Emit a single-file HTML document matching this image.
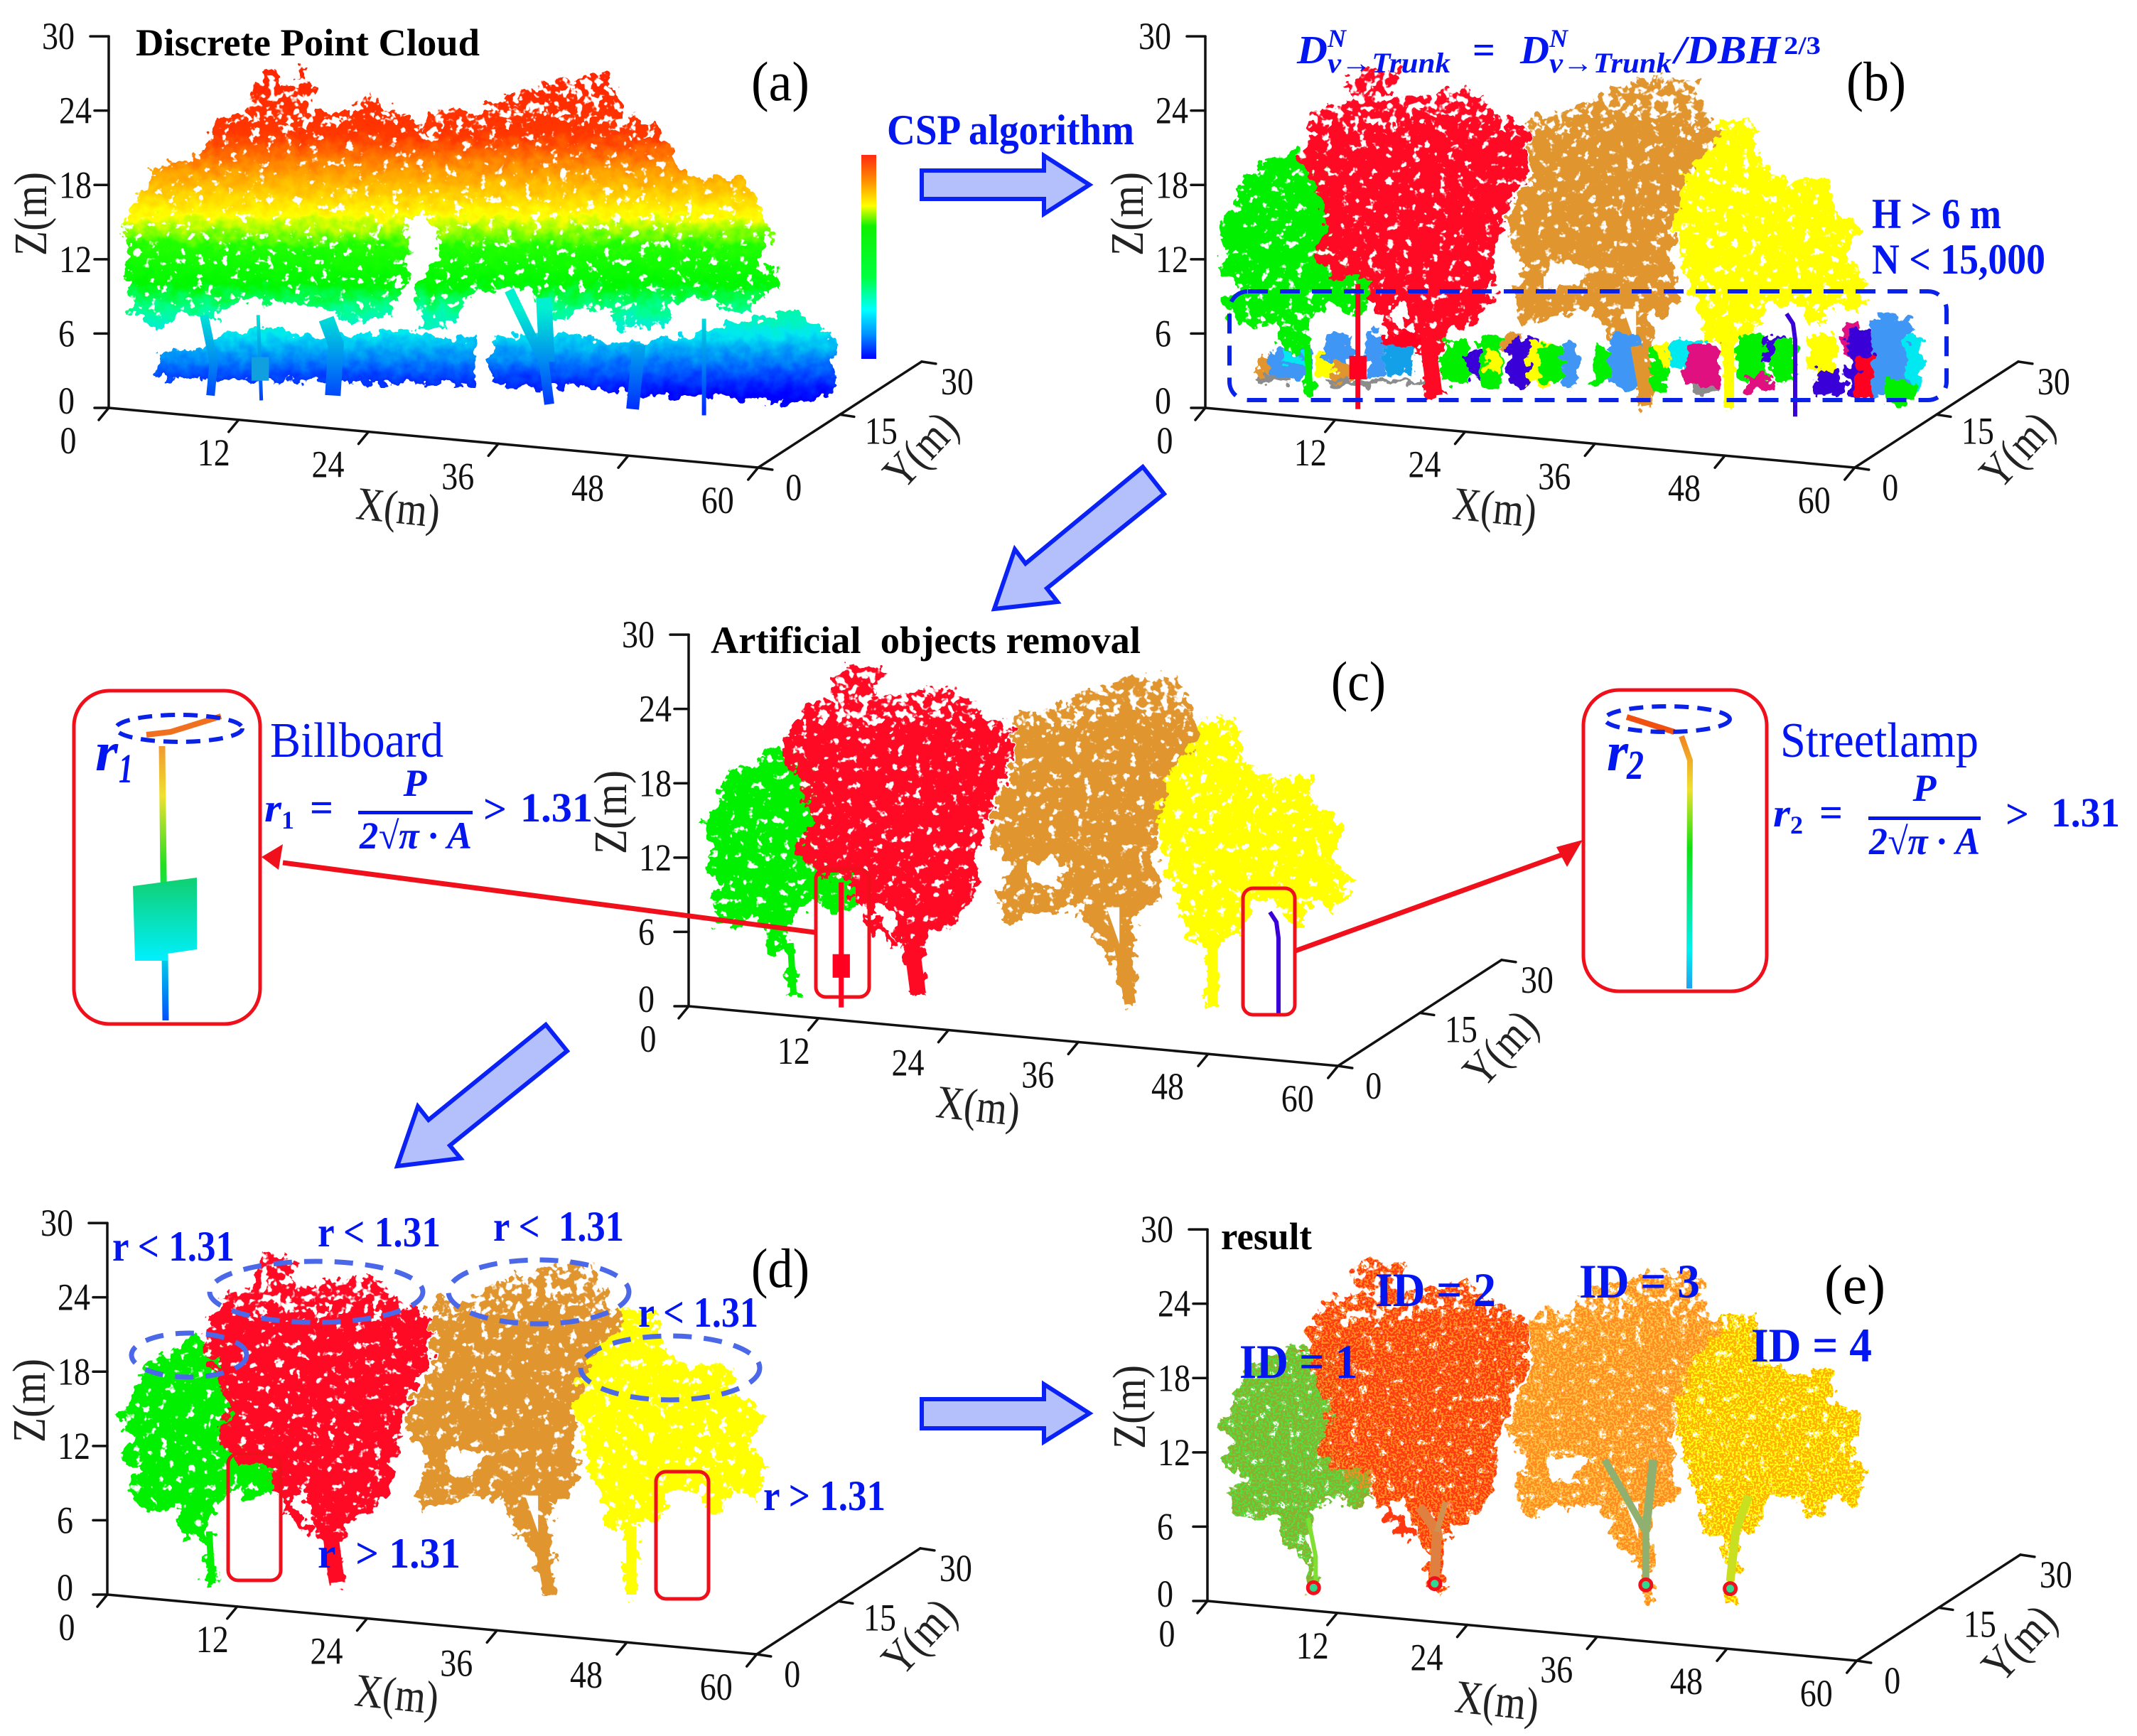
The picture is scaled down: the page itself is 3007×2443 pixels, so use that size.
<!DOCTYPE html>
<html>
<head>
<meta charset="utf-8">
<title>Point cloud tree segmentation workflow</title>
<style>
html,body{margin:0;padding:0;background:#fff;width:3007px;height:2443px;overflow:hidden}
svg{display:block}
text{font-family:"Liberation Serif",serif}
.tick{font-size:54px;fill:#111}
.axt{font-size:66px;fill:#222}
.ttl{font-size:54px;font-weight:700;fill:#000}
.tag{font-size:78px;fill:#000}
.blb{font-size:60px;font-weight:700;fill:#0416f0}
.eq{font-weight:700;font-style:italic;fill:#0416f0}
.reg{font-size:70px;fill:#0416f0}
</style>
</head>
<body>
<svg id="fig" xmlns="http://www.w3.org/2000/svg" width="3007" height="2443" viewBox="0 0 3007 2443">
<defs>
<filter id="rough" x="-6%" y="-6%" width="112%" height="112%" color-interpolation-filters="sRGB">
  <feTurbulence type="fractalNoise" baseFrequency="0.06" numOctaves="3" seed="4" result="n"/>
  <feDisplacementMap in="SourceGraphic" in2="n" scale="34" xChannelSelector="R" yChannelSelector="G" result="d"/>
  <feTurbulence type="fractalNoise" baseFrequency="0.08" numOctaves="3" seed="11" result="h"/>
  <feColorMatrix in="h" type="matrix" values="0 0 0 0 0  0 0 0 0 0  0 0 0 0 0  0 0 0 -12 8.7" result="m"/>
  <feComposite in="d" in2="m" operator="in"/>
</filter>
<filter id="speck" x="-6%" y="-6%" width="112%" height="112%" color-interpolation-filters="sRGB">
  <feTurbulence type="fractalNoise" baseFrequency="0.06" numOctaves="3" seed="4" result="n"/>
  <feDisplacementMap in="SourceGraphic" in2="n" scale="34" xChannelSelector="R" yChannelSelector="G" result="d"/>
  <feTurbulence type="fractalNoise" baseFrequency="0.35" numOctaves="1" seed="9" result="f"/>
  <feColorMatrix in="f" type="matrix" values="0 0 0 0 0  0 0 0 0 0  0 0 0 0 0  0 0 0 -18 9" result="m"/>
  <feComposite in="d" in2="m" operator="in"/>
</filter>
<filter id="lump" x="-6%" y="-6%" width="112%" height="112%" color-interpolation-filters="sRGB">
  <feTurbulence type="fractalNoise" baseFrequency="0.06" numOctaves="3" seed="7" result="n"/>
  <feDisplacementMap in="SourceGraphic" in2="n" scale="30" xChannelSelector="R" yChannelSelector="G"/>
</filter>
<filter id="sparse" x="-4%" y="-10%" width="108%" height="120%" color-interpolation-filters="sRGB">
  <feTurbulence type="fractalNoise" baseFrequency="0.05" numOctaves="3" seed="5" result="n"/>
  <feDisplacementMap in="SourceGraphic" in2="n" scale="70" xChannelSelector="R" yChannelSelector="G" result="d"/>
  <feTurbulence type="fractalNoise" baseFrequency="0.09" numOctaves="2" seed="21" result="h"/>
  <feColorMatrix in="h" type="matrix" values="0 0 0 0 0  0 0 0 0 0  0 0 0 0 0  0 0 0 14 -7.5" result="m"/>
  <feComposite in="d" in2="m" operator="in"/>
</filter>
<linearGradient id="barGrad" x1="0" y1="0" x2="0" y2="1">
  <stop offset="0" stop-color="#ff2a10"/><stop offset=".13" stop-color="#ff9000"/><stop offset=".25" stop-color="#ffff00"/>
  <stop offset=".35" stop-color="#10f000"/><stop offset=".6" stop-color="#00ff40"/><stop offset=".76" stop-color="#00ffff"/>
  <stop offset=".88" stop-color="#0090ff"/><stop offset="1" stop-color="#0000ff"/>
</linearGradient>
<linearGradient id="poleL" gradientUnits="userSpaceOnUse" x1="0" y1="1041" x2="0" y2="1436">
  <stop offset="0" stop-color="#f09030"/><stop offset=".2" stop-color="#f0e030"/><stop offset=".45" stop-color="#20e020"/>
  <stop offset=".75" stop-color="#00e0e0"/><stop offset="1" stop-color="#0050ff"/>
</linearGradient>
<linearGradient id="poleR" gradientUnits="userSpaceOnUse" x1="0" y1="1032" x2="0" y2="1391">
  <stop offset="0" stop-color="#f08020"/><stop offset=".22" stop-color="#f0e030"/><stop offset=".45" stop-color="#10e010"/>
  <stop offset=".85" stop-color="#00f0f0"/><stop offset="1" stop-color="#20a0f0"/>
</linearGradient>
<linearGradient id="boardGrad" x1="0" y1="0" x2="0" y2="1">
  <stop offset="0" stop-color="#10d070"/><stop offset="1" stop-color="#00f0ff"/>
</linearGradient>
</defs>

<g id="marks"></g>

<!-- panel a -->
<text class="ttl" x="191" y="78" textLength="484" lengthAdjust="spacingAndGlyphs">Discrete Point Cloud</text>
<text class="tag" x="1057" y="141" textLength="82" lengthAdjust="spacingAndGlyphs">(a)</text>
<rect x="1212" y="218" width="21" height="287" fill="url(#barGrad)"/>
<text class="blb" x="1248" y="203" textLength="348" lengthAdjust="spacingAndGlyphs">CSP algorithm</text>
<polygon points="1297,240 1469,240 1469,219 1533,260 1469,301 1469,280 1297,280" fill="#b3c0fb" stroke="#0a22f5" stroke-width="6"/>

<!-- panel b -->
<g>
<text class="eq" font-size="56" x="1825" y="89" textLength="43" lengthAdjust="spacingAndGlyphs">D</text>
<text class="eq" font-size="36" x="1868" y="66" textLength="26" lengthAdjust="spacingAndGlyphs">N</text>
<text class="eq" font-size="40" x="1868" y="102" textLength="173" lengthAdjust="spacingAndGlyphs">v→Trunk</text>
<text class="eq" font-size="56" x="2072" y="89" style="font-style:normal">=</text>
<text class="eq" font-size="56" x="2139" y="89" textLength="41" lengthAdjust="spacingAndGlyphs">D</text>
<text class="eq" font-size="36" x="2180" y="66" textLength="26" lengthAdjust="spacingAndGlyphs">N</text>
<text class="eq" font-size="40" x="2180" y="102" textLength="172" lengthAdjust="spacingAndGlyphs">v→Trunk</text>
<text class="eq" font-size="56" x="2356" y="89" textLength="149" lengthAdjust="spacingAndGlyphs">/DBH</text>
<text class="eq" font-size="36" x="2510" y="76" textLength="52" lengthAdjust="spacingAndGlyphs" style="font-style:normal">2/3</text>
</g>
<text class="tag" x="2598" y="141" textLength="84" lengthAdjust="spacingAndGlyphs">(b)</text>
<text class="blb" x="2634" y="321" textLength="182" lengthAdjust="spacingAndGlyphs">H &gt; 6 m</text>
<text class="blb" x="2634" y="385" textLength="244" lengthAdjust="spacingAndGlyphs">N &lt; 15,000</text>
<rect x="1730" y="410" width="1009" height="153" rx="26" fill="none" stroke="#0a22e8" stroke-width="6" stroke-dasharray="28 17"/>
<polygon points="1608,657 1638,695 1473,828 1488,847 1399,857 1428,773 1443,793" fill="#b3c0fb" stroke="#0a22f5" stroke-width="6"/>

<!-- panel c -->
<text class="ttl" x="1000" y="919" textLength="605" lengthAdjust="spacingAndGlyphs" xml:space="preserve">Artificial  objects removal</text>
<text class="tag" x="1873" y="985" textLength="77" lengthAdjust="spacingAndGlyphs">(c)</text>
<rect x="1148" y="1223" width="75" height="180" rx="14" fill="none" stroke="#f0101c" stroke-width="5"/>
<rect x="1749" y="1250" width="73" height="178" rx="14" fill="none" stroke="#f0101c" stroke-width="5"/>

<g>
<rect x="104" y="972" width="262" height="469" rx="50" fill="#fff" stroke="#f0101c" stroke-width="5"/>
<polyline points="228,1050 230,1230 232,1345 233,1436" fill="none" stroke="url(#poleL)" stroke-width="9"/>
<polygon points="187,1247 277,1235 277,1336 236,1342 236,1352 190,1352" fill="url(#boardGrad)"/>
<polyline points="206,1034 240,1030 311,1008" fill="none" stroke="#f07020" stroke-width="8"/>
<ellipse cx="252" cy="1025" rx="89" ry="19" fill="none" stroke="#0a22e8" stroke-width="6" stroke-dasharray="20 12"/>
<text class="eq" font-size="78" x="134" y="1084" textLength="32" lengthAdjust="spacingAndGlyphs">r</text>
<text class="eq" font-size="58" x="167" y="1101" textLength="20" lengthAdjust="spacingAndGlyphs">1</text>
</g>
<text class="reg" x="380" y="1065" textLength="244" lengthAdjust="spacingAndGlyphs">Billboard</text>
<g>
<text class="eq" font-size="56" x="372" y="1156" textLength="24" lengthAdjust="spacingAndGlyphs">r</text>
<text class="eq" font-size="36" x="396" y="1166" style="font-style:normal">1</text>
<text class="eq" font-size="58" x="436" y="1156" style="font-style:normal">=</text>
<text class="eq" font-size="54" x="584" y="1120" text-anchor="middle">P</text>
<rect x="504" y="1141" width="161" height="5" fill="#0416f0"/>
<text class="eq" font-size="54" x="506" y="1194" textLength="158" lengthAdjust="spacingAndGlyphs">2√π · A</text>
<text class="eq" font-size="58" x="680" y="1158" style="font-style:normal">&gt;</text>
<text class="eq" font-size="58" x="732" y="1156" textLength="102" lengthAdjust="spacingAndGlyphs" style="font-style:normal">1.31</text>
</g>
<g>
<line x1="1146" y1="1312" x2="398" y2="1214" stroke="#f0101c" stroke-width="7"/>
<polygon points="368,1206 398,1188 392,1224" fill="#f0101c"/>
</g>

<g>
<rect x="2228" y="971" width="258" height="424" rx="50" fill="#fff" stroke="#f0101c" stroke-width="5"/>
<polyline points="2289,1009 2356,1030" fill="none" stroke="#f05010" stroke-width="8"/>
<polyline points="2366,1036 2378,1070 2377,1391" fill="none" stroke="url(#poleR)" stroke-width="8"/>
<ellipse cx="2346" cy="1012" rx="88" ry="18" fill="none" stroke="#0a22e8" stroke-width="6" stroke-dasharray="20 12"/>
<text class="eq" font-size="78" x="2261" y="1084" textLength="30" lengthAdjust="spacingAndGlyphs">r</text>
<text class="eq" font-size="58" x="2289" y="1096" textLength="24" lengthAdjust="spacingAndGlyphs">2</text>
</g>
<text class="reg" x="2505" y="1065" textLength="279" lengthAdjust="spacingAndGlyphs">Streetlamp</text>
<g>
<text class="eq" font-size="56" x="2495" y="1163" textLength="24" lengthAdjust="spacingAndGlyphs">r</text>
<text class="eq" font-size="36" x="2519" y="1173" style="font-style:normal">2</text>
<text class="eq" font-size="58" x="2560" y="1163" style="font-style:normal">=</text>
<text class="eq" font-size="54" x="2708" y="1127" text-anchor="middle">P</text>
<rect x="2629" y="1149" width="158" height="5" fill="#0416f0"/>
<text class="eq" font-size="54" x="2630" y="1202" textLength="156" lengthAdjust="spacingAndGlyphs">2√π · A</text>
<text class="eq" font-size="58" x="2822" y="1165" style="font-style:normal">&gt;</text>
<text class="eq" font-size="58" x="2886" y="1163" textLength="97" lengthAdjust="spacingAndGlyphs" style="font-style:normal">1.31</text>
</g>
<g>
<line x1="1823" y1="1338" x2="2200" y2="1202" stroke="#f0101c" stroke-width="7"/>
<polygon points="2227,1182 2205,1220 2190,1192" fill="#f0101c"/>
</g>
<polygon points="768,1442 798,1479 633,1612 648,1630 559,1641 588,1557 603,1576" fill="#b3c0fb" stroke="#0a22f5" stroke-width="6"/>

<!-- panel d -->
<text class="tag" x="1057" y="1811" textLength="82" lengthAdjust="spacingAndGlyphs">(d)</text>
<g fill="none" stroke="#4a68e8" stroke-width="7" stroke-dasharray="26 17">
<ellipse cx="266" cy="1907" rx="81" ry="31"/>
<ellipse cx="445" cy="1818" rx="150" ry="43"/>
<ellipse cx="758" cy="1818" rx="127" ry="45"/>
<ellipse cx="943" cy="1925" rx="126" ry="45"/>
</g>
<rect x="321" y="2046" width="74" height="178" rx="14" fill="none" stroke="#f0101c" stroke-width="5"/>
<rect x="923" y="2071" width="74" height="179" rx="14" fill="none" stroke="#f0101c" stroke-width="5"/>
<text class="blb" x="158" y="1774" textLength="172" lengthAdjust="spacingAndGlyphs">r &lt; 1.31</text>
<text class="blb" x="447" y="1754" textLength="173" lengthAdjust="spacingAndGlyphs">r &lt; 1.31</text>
<text class="blb" x="694" y="1746" textLength="184" lengthAdjust="spacingAndGlyphs" xml:space="preserve">r &lt;  1.31</text>
<text class="blb" x="898" y="1867" textLength="169" lengthAdjust="spacingAndGlyphs">r &lt; 1.31</text>
<text class="blb" x="1074" y="2125" textLength="172" lengthAdjust="spacingAndGlyphs">r &gt; 1.31</text>
<text class="blb" x="447" y="2206" textLength="201" lengthAdjust="spacingAndGlyphs" xml:space="preserve">r  &gt; 1.31</text>
<polygon points="1297,1969 1469,1969 1469,1948 1533,1989 1469,2029 1469,2010 1297,2010" fill="#b3c0fb" stroke="#0a22f5" stroke-width="6"/>

<!-- panel e -->
<text class="ttl" x="1718" y="1758" textLength="128" lengthAdjust="spacingAndGlyphs">result</text>
<text class="tag" x="2567" y="1834" textLength="86" lengthAdjust="spacingAndGlyphs">(e)</text>
<text class="blb" style="font-size:68px" x="1744" y="1939" textLength="166" lengthAdjust="spacingAndGlyphs">ID = 1</text>
<text class="blb" style="font-size:68px" x="1935" y="1838" textLength="170" lengthAdjust="spacingAndGlyphs">ID = 2</text>
<text class="blb" style="font-size:68px" x="2222" y="1826" textLength="170" lengthAdjust="spacingAndGlyphs">ID = 3</text>
<text class="blb" style="font-size:68px" x="2464" y="1916" textLength="170" lengthAdjust="spacingAndGlyphs">ID = 4</text>

<script>
// ---- axis tick values (metres) and labels ----
const xTicks = [0, 12, 24, 36, 48, 60];
const yTicks = [0, 15, 30];
const zTicks = [0, 6, 12, 18, 24, 30];
const axisTitles = ['X(m)', 'Y(m)', 'Z(m)'];

// ---- height colour scale for the raw cloud: heights (m) and colours ----
const jetHeights = [1, 3, 6, 8, 10, 13, 15.5, 19, 22, 28];
const jetColors = ['#0000ff', '#0058ff', '#00e8f0', '#00ff90', '#00f800', '#20ff00', '#ffff00', '#ffa000', '#ff3800', '#ff2000'];
const trunkHeights = [0, 4, 8];
const trunkColors = ['#0030ff', '#0090f0', '#00f0d0'];

// ---- crown outlines: [horizontal position m, height m] ----
const canopyRaw = [[.9,14.3],[2.8,17],[4.7,19.6],[8.2,20.2],[10,23.3],[13.2,24.4],[13.5,26.3],[15.1,27.5],[16,25.9],[17.9,27.2],[18.8,26.3],[18.5,24.2],[22,23.6],[23.9,25.5],[26.4,23.9],[29.2,22.7],[30.2,24.2],[33.3,23.6],[37.1,25.3],[40.2,26.3],[45.9,26.9],[46.8,25.6],[47.7,23.3],[50.6,23.1],[52.1,20.3],[53.7,18.6],[58.4,18.6],[60.6,15.7],[61.2,13.3],[59.4,11.4],[61.9,11.1],[61.9,9.8],[59.7,8.6],[59.7,7.5],[56.5,7.8],[56.5,8.6],[51.8,8.6],[51.5,6.6],[46.2,6.4],[46.8,8.1],[43.3,7.8],[42.1,6.9],[40.8,7.2],[38.9,9.5],[33.9,9.5],[31.4,6.6],[28.9,6.6],[28.3,10.1],[30.8,11.9],[29.5,15.7],[27.6,15.1],[27.6,11.3],[26.1,7.5],[22.6,6.6],[21.4,7.2],[20.1,8.1],[17,8.6],[11.9,8.6],[10,7.2],[6.9,7.8],[5,6.4],[2.5,7.5],[1.6,8.9],[2.5,10.4],[1.1,11],[1.9,13]];
const shrubLeftRaw = [[4.7,4.4],[8.2,4.7],[10.7,6],[15.1,6.6],[18.8,5.7],[22.6,5.9],[27,6.4],[30.8,5.6],[33.9,5.4],[33.9,1.9],[27,1.9],[21.4,2.2],[10.7,2.2],[4.4,2.5]];
const shrubRightRaw = [[35.3,5.7],[40.2,5.9],[46.2,5.3],[50.3,5.4],[55.9,6.4],[63.4,7.8],[66.9,5.9],[66.9,1],[62.8,.4],[59,.7],[49.6,1],[44.6,1.5],[35.2,1.8]];
const trunksRaw = [
  [[8.8,7.5],[9.7,3.7],[9.4,1]],
  [[13.8,7.5],[14.1,.6]],
  [[20.1,7.2],[21,5.1],[20.7,1]],
  [[37,9.5],[40.2,3.7],[40.7,.3]],
  [[40.2,8.9],[40.5,3.7]],
  [[49,5.1],[48.4,-.1]],
  [[55,7.2],[55,-.6]]
];
const trunkWidthsRaw = [12, 5, 22, 14, 22, 18, 6];
const boardRaw = [[13.2,4.1],[14.8,4.1],[14.8,2.2],[13.2,2.2]];

const greenCrown = [[1.1,14.5],[2.8,16.5],[3.6,18.9],[6,19.8],[8.2,21.1],[8.8,20.3],[11.6,20.3],[11.9,16.5],[11.6,12.4],[14.8,10.4],[15.1,8.3],[13.2,7.8],[11.9,8.6],[9.7,7.2],[9.4,5.1],[10.1,.9],[9.2,.9],[9.2,3.7],[8.2,4.4],[7.1,4.4],[6.6,7.2],[4.1,6.6],[2.8,6.7],[1.9,8.9],[3.5,9.8],[1.3,11.1],[2.2,12.7]];
const redCrown = [[8.8,20.3],[10.4,24.2],[13.5,24.7],[13.5,26.6],[14.8,27.5],[18.5,27.1],[16.6,25.3],[19.2,25],[24.2,25.9],[26.7,23.9],[29.8,22.4],[29.8,18.9],[28,16.2],[27.3,14.2],[26.7,11.9],[26.4,8.6],[24.2,6.6],[22.3,6],[22,4.8],[21.4,3.7],[22,.9],[20.4,.9],[20.4,3.1],[19.5,5.1],[18.2,8.6],[16.6,7.2],[14.8,8.9],[12.2,10.4],[10,12.4],[11.3,14.8],[10,18.3]];
const redOutlier = [[16.8,7.5],[19.5,5.2],[18.8,4.8],[16.2,6.8]];
const orangeCrown = [[28,15.4],[30.2,18.9],[29.8,23],[30.5,23.9],[33,23.6],[36.1,25.3],[40.5,26.5],[45.2,26.5],[46.5,23],[47.7,22.1],[44.3,18.9],[43.3,14.8],[43,11.9],[43.7,8.6],[41.1,7.2],[41.3,.1],[40.2,.1],[39.6,3.1],[37.4,5.7],[36.1,7.8],[32.4,7.5],[29.2,6.6],[28.6,9.5],[29.8,11.3],[28,13]];
const yellowCrown = [[43.3,14.8],[44,18.9],[47.7,23.3],[50.6,23],[51.2,20],[53.7,18.3],[57.8,18.6],[57.5,16.5],[60.6,14.5],[59.4,11.9],[61.2,10.4],[60,7.5],[57.6,8.6],[56.9,6.7],[55.5,6.8],[55,8.3],[52,8.6],[51,5.8],[49,5.6],[48.9,3.5],[48.9,0],[47.9,0],[47.9,3.5],[47.4,5.3],[45.9,5.4],[45.9,7.5],[44.3,10.2]];
const greenPatch = [[11.6,10.5],[15.2,10.6],[15.2,8],[13.4,7.6],[11.9,8.5]];
// canopy gaps and the sparse crown-top band: [horizontal m, height m]
const orangeGapLeft = [[31.5,11.8],[35,11.5],[34,9.6],[31.5,9.8]];
const orangeGapFork = [[38.6,8],[39.8,8],[39.8,5]];
const sparseBand = [[0,28.5],[64,28.5],[64,22],[56,23.5],[48,22.3],[40,23.8],[32,22.2],[24,23.6],[16,22.4],[8,23.4],[0,22]];

// ---- main trunks: [horizontal m, height m] and widths ----
const greenTrunk = [[9.4,5.1],[9.7,.9]];
const redTrunk = [[20.6,5],[21.2,1]];
const orangeTrunk = [[39.8,5],[40.8,.2]];
const yellowTrunk = [[48.4,5.5],[48.4,0]];

// ---- artificial objects ----
const billboardPole = [[14.1,10],[14.1,-.1]];
const billboardBoard = [[13.3,4.2],[14.9,4.2],[14.9,2.3],[13.3,2.3]];
const lampPole = [[53.7,7.6],[54.3,6.8],[54.5,5.5],[54.5,-.7]];

// ---- understory clusters in panel b: [from m, to m, low m, high m, colour] ----
const shrubs = [
[4.7,6.3,2.5,4.1,'#e0952f'],[4.7,7.9,2,2.6,'#8c8c8c'],[6,9.7,2.5,4.5,'#3f96f5'],[7.2,9.1,3.4,4.4,'#00e8f0'],
[10.4,11.9,2.5,4.8,'#ffff00'],[11,13.5,3.7,5.9,'#3f96f5'],[11.9,13.5,2.2,4,'#e0952f'],[11,20.4,1.8,2.3,'#8c8c8c'],
[14.8,16.6,2.5,6.3,'#3f96f5'],[16.6,19.2,2.8,5.3,'#14a0e8'],[16.3,19.8,4.8,6.1,'#ff0020'],[22,24.2,2,5.4,'#00f000'],
[24.2,26.1,2.2,4.8,'#3a00d8'],[25.4,27.3,1.6,5.7,'#00f000'],[26,27,3,5.1,'#ffff00'],[27.3,29.2,4.5,5.9,'#e0952f'],
[28,30.8,1.8,5.6,'#3a00d8'],[29.8,32.3,1.8,5.3,'#ffff00'],[30.8,33,2,5.1,'#00f000'],[33,34.5,1.8,5.3,'#3f96f5'],
[35.8,37.4,1.9,5.1,'#00f000'],[37.4,40.2,1.6,5.9,'#3f96f5'],[41.1,42.7,1.2,4.8,'#00f000'],[41.8,43.3,3.4,5.1,'#ffff00'],
[43,46.2,3.1,5.6,'#00e8f0'],[44.3,47.7,1.6,5.1,'#e01080'],[44.9,47.4,1.2,1.8,'#8c8c8c'],[49,51.8,1.9,5.7,'#00f000'],
[51.5,53.7,3.7,5.9,'#3a00d8'],[52.4,54.6,2.2,5.6,'#00f000'],[49.9,52.4,1.3,2.5,'#e01080'],[55.6,58.4,2.8,6,'#ffff00'],
[56.2,59,1,3.1,'#3a00d8'],[59,60.3,3.7,6.9,'#e01080'],[59.4,61.6,1,6.4,'#3a00d8'],[60,61.9,1,4.2,'#ff0020'],
[61.6,65.3,1,7.3,'#3f96f5'],[64.7,66.3,1.3,5.7,'#00e8f0'],[62.8,65.6,.4,2.2,'#00f000']
];

// ---- result panel: detected tree base positions [m, m] and skeleton branches ----
const stemBases = [[9.8,1.07],[21,1.4],[40.5,1.3],[48.3,1]];
const skeletonBranches = [
  [[10,1.6],[10,3.6],[9.3,6.7]],
  [[21,1.6],[21.2,5.6],[19.6,7.6]],
  [[21.2,5.6],[22,8]],
  [[40.5,1.6],[40.5,5.6],[36.7,11.4]],
  [[40.5,5.6],[41.2,11.4]],
  [[48.3,1.6],[48.8,5.6],[50,8.5]]
];
const skeletonColors = ['#80e030', '#e08040', '#d09050', '#90b070', '#90b070', '#c8e020'];
const skeletonWidths = [6, 14, 8, 10, 12, 12];

const SVGNS = 'http://www.w3.org/2000/svg';
const PX_PER_M_X = 15.23, PX_PER_M_Y = 7.67, TILT_X = 1.4, TILT_Y = 4.97, PX_PER_M_Z = 17.43;
const xScale = (o, u) => o.x + u * PX_PER_M_X;
const zScale = (o, v) => o.y - v * PX_PER_M_Z;
const proj = (o, x, y, z) => [o.x + x * PX_PER_M_X + y * PX_PER_M_Y, o.y + x * TILT_X - y * TILT_Y - z * PX_PER_M_Z];
const pts = (o, arr) => arr.map(p => xScale(o, p[0]).toFixed(1) + ',' + zScale(o, p[1]).toFixed(1)).join(' ');
function mk(tag, parent) { const el = document.createElementNS(SVGNS, tag); parent.appendChild(el); return el; }

const root = document.getElementById('marks');
const defs = document.querySelector('defs');

function addGradient(id, o, heights, colors) {
  const g = mk('linearGradient', defs);
  g.setAttribute('id', id);
  g.setAttribute('gradientUnits', 'userSpaceOnUse');
  const top = heights[heights.length - 1], bot = heights[0];
  g.setAttribute('x1', 0); g.setAttribute('x2', 0);
  g.setAttribute('y1', zScale(o, top)); g.setAttribute('y2', zScale(o, bot));
  for (let i = heights.length - 1; i >= 0; i--) {
    const s = mk('stop', g);
    s.setAttribute('offset', (top - heights[i]) / (top - bot));
    s.setAttribute('stop-color', colors[i]);
  }
}

function drawAxes(o, parent) {
  const g = mk('g', parent);
  
  
  g.setAttribute('stroke-linecap', 'round');
  const line = (a, b) => {
    const l = mk('line', g);
    l.setAttribute('x1', a[0]); l.setAttribute('y1', a[1]); l.setAttribute('x2', b[0]); l.setAttribute('y2', b[1]);
    l.setAttribute('stroke', '#111'); l.setAttribute('stroke-width', 3.5);
    return l;
  };
  const zAxis = line(proj(o, 0, 0, 0), proj(o, 0, 0, 30));
  
  
  const xAxis = line(proj(o, 0, 0, 0), proj(o, 60, 0, 0));
  
  
  const yAxis = line(proj(o, 60, 0, 0), proj(o, 60, 30, 0));
  
  
  const label = (str, x, y, anchor) => {
    const t = mk('text', g);
    t.setAttribute('class', 'tick');
    t.setAttribute('x', x); t.setAttribute('y', y);
    t.setAttribute('text-anchor', anchor);
    t.setAttribute('textLength', str.length * 23);
    t.setAttribute('lengthAdjust', 'spacingAndGlyphs');
    t.textContent = str;
    return t;
  };
  zTicks.forEach(v => {
    const p = proj(o, 0, 0, v);
    const tk = line([p[0] - (v === 30 ? 26 : 20), p[1]], p);
    
    
    const narrow = (v === 30 || v === 6 || v === 0);
    const t = label(String(v), p[0] - (narrow ? 48 : 24), p[1] + (v === 0 ? 8 : 18), 'end');
    
    
  });
  xTicks.forEach(v => {
    const p = proj(o, v, 0, 0);
    const tk = line(p, [p[0] - 14, p[1] + 17]);
    
    
    const t = label(String(v), p[0] - 57 + (v === 12 ? 22 : 0), p[1] + 64, 'middle');
    
    
  });
  yTicks.forEach(v => {
    const p = proj(o, 60, v, 0);
    const tk = line(p, [p[0] + 20, p[1] + 3]);
    
    
    const t = label(String(v), p[0] + 50 + (v === 15 ? 8 : 0), p[1] + 46 - (v === 15 ? 5 : 0), 'middle');
    
    
  });
  const title = (str, dx, dy, rot) => {
    const t = mk('text', g);
    const x = o.x + dx, y = o.y + dy;
    t.setAttribute('class', 'axt');
    t.setAttribute('text-anchor', 'middle');
    t.setAttribute('x', x); t.setAttribute('y', y);
    t.setAttribute('textLength', 118);
    t.setAttribute('lengthAdjust', 'spacingAndGlyphs');
    t.setAttribute('transform', 'rotate(' + rot + ' ' + x + ' ' + y + ')');
    t.textContent = str;
    return t;
  };
  const tx = title(axisTitles[0], 405, 162, 6);
  
  
  const ty = title(axisTitles[1], 1158, 74, -47);
  
  
  const tz = title(axisTitles[2], -88, -273, -90);
  
  
}

function crown(o, parent, arr, fill, filterId) {
  const p = mk('polygon', parent);
  p.setAttribute('points', pts(o, arr));
  p.setAttribute('fill', fill);
  if (filterId) p.setAttribute('filter', 'url(#' + filterId + ')');
  return p;
}
function stem(o, parent, arr, color, width) {
  const l = mk('polyline', parent);
  l.setAttribute('points', pts(o, arr));
  l.setAttribute('fill', 'none');
  l.setAttribute('stroke', color);
  l.setAttribute('stroke-width', width);
  l.setAttribute('stroke-linejoin', 'round');
  return l;
}

function drawTrees(o, parent, c) {
  const a = crown(o, parent, greenCrown, c[0], 'rough');
  
  
  const b = crown(o, parent, yellowCrown, c[3], 'rough');
  
  
  const d = crown(o, parent, orangeCrown, c[2], 'rough');
  
  
  const e = crown(o, parent, redCrown, c[1], 'rough');
  
  
  const r = crown(o, parent, redOutlier, c[1], 'rough');
  
  
  const f = crown(o, parent, greenPatch, c[0], 'rough');
  
  
}
function drawGaps(o, parent) {
  const a = crown(o, parent, orangeGapLeft, '#fff', 'lump');
  
  
  const b = crown(o, parent, orangeGapFork, '#fff', null);
  
  
  const s = crown(o, parent, sparseBand, '#fff', 'sparse');
  
  
}
function drawStems(o, parent, c) {
  const a = stem(o, parent, greenTrunk, c[0], 9);
  
  
  const b = stem(o, parent, redTrunk, c[1], 22);
  
  
  const d = stem(o, parent, orangeTrunk, c[2], 16);
  
  
  const e = stem(o, parent, yellowTrunk, c[3], 14);
  
  
}
function drawObjects(o, parent) {
  const pole = stem(o, parent, billboardPole, '#ff0020', 7);
  
  
  const brd = crown(o, parent, billboardBoard, '#ff0020', null);
  
  
  const lamp = stem(o, parent, lampPole, '#3a00d8', 6);
  
  
}
function panelGroup(name) {
  const g = mk('g', root);
  
  
  return g;
}

const segColors = ['#00f000', '#ff0a24', '#e0952f', '#ffff00'];

// panel a
(function () {
  const o = { x: 153, y: 574 };
  addGradient('jet', o, jetHeights, jetColors);
  addGradient('jetTrunk', o, trunkHeights, trunkColors);
  const g = panelGroup('panel-a-raw-cloud');
  const s1 = crown(o, g, canopyRaw, 'url(#jet)', 'rough');
  
  
  const s2 = crown(o, g, shrubLeftRaw, 'url(#jet)', 'lump');
  
  
  const s3 = crown(o, g, shrubRightRaw, 'url(#jet)', 'lump');
  
  
  const s = crown(o, g, sparseBand, '#fff', 'sparse');
  
  
  trunksRaw.forEach((t, i) => {
    const l = stem(o, g, t, 'url(#jetTrunk)', trunkWidthsRaw[i]);
    
    
  });
  const b = crown(o, g, boardRaw, '#10a0e0', null);
  
  
  drawAxes(o, g);
})();

// panel b
(function () {
  const o = { x: 1696, y: 574 };
  const g = panelGroup('panel-b-candidates');
  drawTrees(o, g, segColors);
  drawGaps(o, g);
  const sg = mk('g', g);
  sg.setAttribute('filter', 'url(#lump)');
  
  
  shrubs.forEach(s => {
    const r = mk('rect', sg);
    r.setAttribute('x', xScale(o, s[0]));
    r.setAttribute('y', zScale(o, s[3]));
    r.setAttribute('width', (s[1] - s[0]) * PX_PER_M_X);
    r.setAttribute('height', (s[3] - s[2]) * PX_PER_M_Z);
    r.setAttribute('rx', 8);
    r.setAttribute('fill', s[4]);
    
    
  });
  drawStems(o, g, segColors);
  drawObjects(o, g);
  drawAxes(o, g);
})();

// panel c
(function () {
  const o = { x: 969, y: 1416 };
  const g = panelGroup('panel-c-artificial-removal');
  drawTrees(o, g, segColors);
  drawGaps(o, g);
  drawStems(o, g, segColors);
  drawObjects(o, g);
  drawAxes(o, g);
})();

// panel d
(function () {
  const o = { x: 151, y: 2244 };
  const g = panelGroup('panel-d-crown-ratio');
  drawTrees(o, g, segColors);
  drawGaps(o, g);
  drawStems(o, g, segColors);
  drawAxes(o, g);
})();

// panel e
(function () {
  const o = { x: 1699, y: 2253 };
  const g = panelGroup('panel-e-result');
  const baseColors = ['#8fae2e', '#ff3a10', '#ff8c20', '#ffb000'];
  const overColors = ['#50e040', '#ff8a20', '#ffc040', '#ffff10'];
  drawTrees(o, g, baseColors);
  const over = mk('g', g);
  
  
  [greenCrown, yellowCrown, orangeCrown, redCrown].forEach((arr, i) => {
    const idx = [0, 3, 2, 1][i];
    const p = crown(o, over, arr, overColors[idx], 'speck');
    
    
  });
  drawGaps(o, g);
  skeletonBranches.forEach((b, i) => {
    const l = stem(o, g, b, skeletonColors[i], skeletonWidths[i]);
    
    
  });
  stemBases.forEach(b => {
    const c = mk('circle', g);
    c.setAttribute('cx', xScale(o, b[0]));
    c.setAttribute('cy', zScale(o, b[1]));
    c.setAttribute('r', 8);
    c.setAttribute('fill', '#30d890');
    c.setAttribute('stroke', '#f0101c');
    c.setAttribute('stroke-width', 5);
    
    
  });
  drawAxes(o, g);
})();
</script>
</svg>
</body>
</html>
